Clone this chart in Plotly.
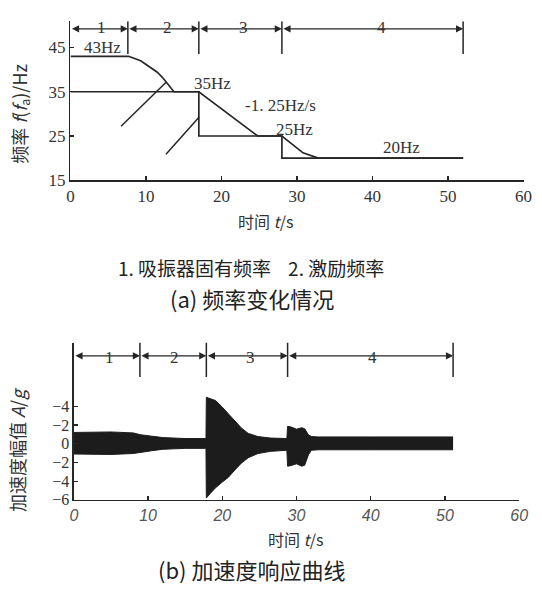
import plotly.graph_objects as go

# ---------------- data: (a) frequency ----------------
t_nat = [0, 7.7, 9.3, 10.2, 11.5, 12.3, 13.0, 13.7, 17, 17, 28, 28, 52]
f_nat = [43, 43, 42, 40.9, 39.4, 38, 36.6, 35, 35, 25, 25, 20, 20]
t_exc = [0, 17, 24.8, 28, 30.8, 32.8, 52]
f_exc = [35, 35, 25, 25, 21.2, 20, 20]
leader1_t = [6.7, 12.7]
leader1_f = [27.2, 37.2]
leader2_t = [12.65, 17.05]
leader2_f = [20.9, 29.3]
stages_a = [0, 7.6, 17, 28, 52]
stage_names = ["1", "2", "3", "4"]
stage_label_t_a = [4.15, 12.9, 22.9, 41.2]
note_text = ["43Hz", "35Hz", "-1. 25Hz/s", "25Hz", "20Hz"]
note_t = [4.2, 18.8, 27.8, 29.7, 43.9]
note_f = [45.0, 36.8, 32.0, 26.5, 22.4]

# ---------------- data: (b) acceleration envelope ----------------
t_env = [0, 5, 8, 9, 10.5, 12, 15, 17.8, 17.85, 18.4, 19.1, 20.0, 20.8, 21.7, 22.6,
         23.5, 24.8, 26.5, 28.7, 28.8, 29.2, 30.0, 30.7, 31.1, 31.6, 32.0, 33, 40, 51.1]
a_upper = [1.2, 1.25, 1.15, 0.95, 0.8, 0.65, 0.55, 0.55, 4.95, 4.8, 4.6, 3.9, 3.2, 2.35,
           1.65, 1.1, 0.76, 0.6, 0.55, 1.85, 1.8, 1.55, 1.7, 1.6, 0.95, 0.76, 0.72, 0.72, 0.72]
a_lower = [-1.1, -1.15, -1.05, -0.9, -0.75, -0.6, -0.5, -0.5, -5.8, -5.3, -4.7, -4.1,
           -3.6, -2.8, -2.05, -1.5, -1.05, -0.82, -0.7, -2.4, -2.35, -2.15, -2.4, -2.3,
           -1.2, -0.7, -0.65, -0.65, -0.65]
stages_b = [0, 8.9, 17.85, 28.8, 51.1]
stage_label_t_b = [4.8, 13.5, 23.8, 40.3]
y_ticks_b = [4, 2, 0, -2, -4, -6]
y_ticktext_b = ["\u22124", "\u22122", "0", "\u22122", "\u22124", "\u22126"]

W, H = 542, 604
INK = "#262626"
SERIF = "Liberation Serif"
CJK = "Noto Sans CJK SC"

fig = go.Figure()

line_style = dict(color=INK, width=1.7)
fig.add_trace(go.Scatter(x=t_nat, y=f_nat, mode="lines", line=line_style, xaxis="x", yaxis="y"))
fig.add_trace(go.Scatter(x=t_exc, y=f_exc, mode="lines", line=line_style, xaxis="x", yaxis="y"))
fig.add_trace(go.Scatter(x=leader1_t, y=leader1_f, mode="lines", line=dict(color=INK, width=1.5), xaxis="x", yaxis="y"))
fig.add_trace(go.Scatter(x=leader2_t, y=leader2_f, mode="lines", line=dict(color=INK, width=1.5), xaxis="x", yaxis="y"))

fig.add_trace(go.Scatter(x=t_env, y=a_upper, mode="lines", line=dict(color="#1c1c1c", width=1),
                         xaxis="x2", yaxis="y2"))
fig.add_trace(go.Scatter(x=t_env, y=a_lower, mode="lines", line=dict(color="#1c1c1c", width=1),
                         fill="tonexty", fillcolor="#1c1c1c", xaxis="x2", yaxis="y2"))

xa_dom = [68.1 / W, 532.3 / W]
ya_dom = [1 - 183.3 / H, 1 - 21.7 / H]
xb_dom = [71.6 / W, 527.8 / W]
yb_dom = [1 - 508.3 / H, 1 - 348.3 / H]
ya_range = [15, 50.9]
yb_range = [-6, 10.8]

ax_common = dict(showgrid=False, zeroline=False, showline=True, linecolor=INK, linewidth=1.5,
                 ticks="inside", ticklen=4, tickcolor=INK, tickwidth=1.3)

fig.update_layout(
    width=W, height=H, margin=dict(l=0, r=0, t=0, b=0),
    paper_bgcolor="white", plot_bgcolor="white", showlegend=False, hovermode=False,
    xaxis=dict(domain=xa_dom, range=[0, 60], tickvals=[0, 10, 20, 30, 40, 50, 60],
               anchor="y", tickfont=dict(family=SERIF, size=17, color="#333"), **ax_common),
    yaxis=dict(domain=ya_dom, range=ya_range, tickvals=[15, 25, 35, 45],
               anchor="x", tickfont=dict(family=SERIF, size=17, color="#333"), **ax_common),
    xaxis2=dict(domain=xb_dom, range=[0, 60], tickvals=[0, 10, 20, 30, 40, 50, 60],
                anchor="y2", tickfont=dict(family="Liberation Sans", size=16, color="#555", style="italic"),
                **ax_common),
    yaxis2=dict(domain=yb_dom, range=yb_range, tickvals=y_ticks_b, ticktext=y_ticktext_b,
                anchor="x2", tickfont=dict(family=SERIF, size=16, color="#333"), **ax_common),
)

shapes = []
annotations = []

def brackets(stages, labels, label_t, xr, yr, yrange, y_arrow, y_top, y_bot, y_label):
    for i, s in enumerate(stages):
        if i > 0:
            shapes.append(dict(type="line", xref=xr, yref=yr, x0=s, x1=s, y0=y_bot, y1=y_top,
                               line=dict(color=INK, width=1.5)))
    for i in range(len(stages) - 1):
        annotations.append(dict(x=stages[i + 1], y=y_arrow, ax=stages[i], ay=y_arrow,
                                xref=xr, yref=yr, axref=xr, ayref=yr, text="", showarrow=True,
                                arrowside="end+start", arrowhead=2, arrowsize=1.1, arrowwidth=1.3,
                                arrowcolor=INK, standoff=0, startstandoff=0))
        yd = (y_label - yrange[0]) / (yrange[1] - yrange[0])
        annotations.append(dict(x=label_t[i], y=yd, xref=xr, yref=yr + " domain", text=labels[i],
                                showarrow=False, font=dict(family=SERIF, size=17, color="#333")))

brackets(stages_a, stage_names, stage_label_t_a, "x", "y", ya_range, 49.2, 50.9, 43.5, 52.0)
brackets(stages_b, stage_names, stage_label_t_b, "x2", "y2", yb_range, 9.38, 10.8, 7.12, 10.43)

for txt, tx, fy in zip(note_text, note_t, note_f):
    annotations.append(dict(x=tx, y=fy, xref="x", yref="y", text=txt, showarrow=False,
                            font=dict(family=SERIF, size=17, color="#333")))

def add_text(x, y, text, size, family=CJK, angle=0, color="#333"):
    annotations.append(dict(x=x / W, y=1 - y / H, xref="paper", yref="paper", text=text,
                            showarrow=False, textangle=angle, borderpad=0,
                            font=dict(family=family, size=size, color=color),
                            xanchor="center", yanchor="middle"))

add_text(268, 225, "时间 <i>t</i>/s", 16)
add_text(16, 116, "频率 <i>f</i>(<i>f</i><sub>a</sub>)/Hz", 18, angle=-90)
add_text(253, 272, "1. 吸振器固有频率    2. 激励频率", 19, color="#222")
add_text(254, 303, "(a) 频率变化情况", 22, color="#222")
add_text(299, 548, "时间 <i>t</i>/s", 16)
add_text(14, 457, "加速度幅值 <i>A</i>/<i>g</i>", 18, angle=-90)
add_text(254, 579, "(b) 加速度响应曲线", 22, color="#222")

fig.update_layout(shapes=shapes, annotations=annotations)
fig.write_html("out.html", config={"displayModeBar": False, "staticPlot": True},
               post_script="document.body.style.margin='0';document.body.style.padding='0';"
                           "document.documentElement.style.overflow='hidden';")
